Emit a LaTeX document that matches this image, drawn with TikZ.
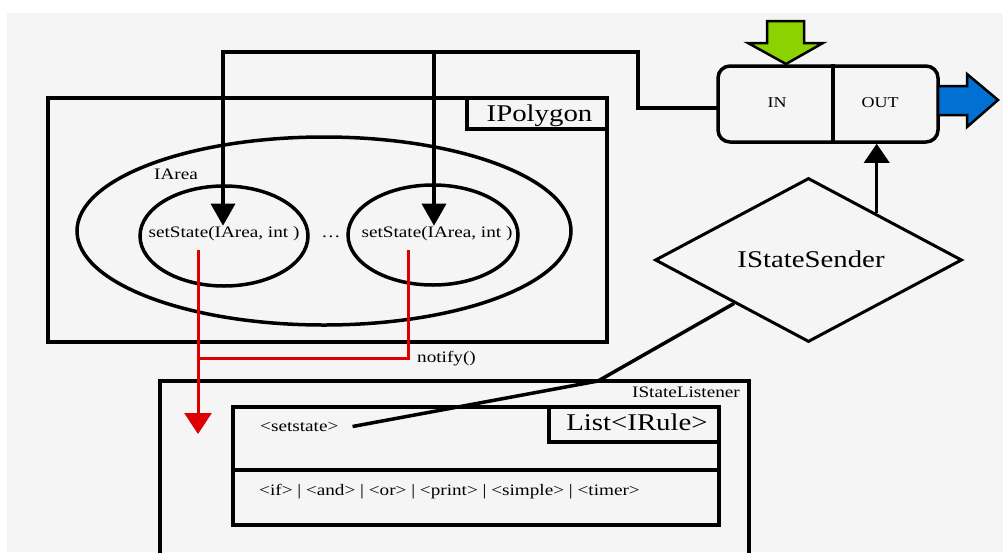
\documentclass[tikz,border=0pt]{standalone}
\usepackage{fontspec}
\setmainfont{Liberation Serif}[FakeStretch=1.2]
\usetikzlibrary{arrows.meta,shapes.geometric,calc}
\definecolor{bg}{HTML}{F5F5F5}
\definecolor{arrred}{HTML}{DD0000}
\definecolor{arrgreen}{HTML}{8CD200}
\definecolor{arrblue}{HTML}{0070D2}
\newcommand\fsmalltxt{\fontsize{16pt}{19pt}\selectfont}
\newcommand\fbigtxt{\fontsize{24pt}{28pt}\selectfont}
\newcommand\fiotxt{\fontsize{15pt}{18pt}\selectfont}
\begin{document}
\begin{tikzpicture}[x=1pt,y=-1pt,
  wire/.style={line width=3.5pt},
  boxstyle/.style={draw, line width=3.5pt, inner sep=0pt, rectangle},
  ellstyle/.style={draw, ellipse, line width=3.5pt, inner sep=0pt},
  txt/.style={inner sep=0pt, font=\fsmalltxt},
  bigtxt/.style={inner sep=0pt, font=\fbigtxt},
  iotxt/.style={inner sep=0pt, font=\fiotxt},
  blackhead/.style={-{Triangle[length=22pt,width=24pt]}},
  redwire/.style={draw=arrred, line width=3pt},
  blockarrow/.style={draw=black, line width=2.5pt, line join=miter},
]
\useasboundingbox (0,0) rectangle (1003,552);
\clip (0,0) rectangle (1003,552);
\fill[white] (0,0) rectangle (1003,552);
\fill[bg] (7,13) rectangle (1003,552);

% IPolygon
\node[boxstyle, minimum width=559pt, minimum height=244pt] (polygon) at (327.5,220) {};
\node[boxstyle, minimum width=140pt, minimum height=31pt] (polytitle) at (537,113.5) {};
\node[bigtxt, anchor=base] (polylbl) at (539.5,121) {IPolygon};

% IArea ellipses
\node[ellstyle, minimum width=494pt, minimum height=188pt] (iarea) at (324,231) {};
\node[txt, anchor=base west] (iarealbl) at (154,179) {IArea};
\node[ellstyle, minimum width=168pt, minimum height=100pt] (area1) at (224,236) {};
\node[ellstyle, minimum width=170pt, minimum height=100pt] (area2) at (433,235) {};
\node[txt, anchor=base] (set1) at (224,237) {setState(IArea, int )};
\node[txt, anchor=base] (set2) at (437,237) {setState(IArea, int )};
\node[txt, anchor=base] (dots) at (331,237) {…};

% IN / OUT
\node[draw, line width=3.5pt, rounded corners=12pt, minimum width=220pt, minimum height=76pt, inner sep=0pt] (io) at (828,104) {};
\coordinate (divx) at (833,0);
\draw[wire] (io.north -| divx) -- (io.south -| divx);
\node[iotxt, anchor=base] (inlbl) at (777,107) {IN};
\node[iotxt, anchor=base] (outlbl) at (880,107) {OUT};

% wire from IN to setState
\coordinate (inport) at (718,108);
\coordinate (bend1) at (638,108);
\coordinate (bend2) at (638,52);
\coordinate (wl) at (223,52);
\coordinate (wr) at (434,52);
\draw[wire, blackhead] (inport) -- (bend1) -- (bend2) -- (wl) -- (wl |- set1.north);
\draw[wire, blackhead] (wr) -- (wr |- set2.north);

% green and blue block arrows
\filldraw[blockarrow, fill=arrgreen] (767,21) -- (804,21) -- (804,43) -- (823,43) -- (786,64) -- (748,43) -- (767,43) -- cycle;
\filldraw[blockarrow, fill=arrblue] (938,86) -- (967,86) -- (967,74) -- (998,100) -- (967,127) -- (967,115) -- (938,115) -- cycle;

% IStateSender
\node[draw, diamond, line width=3pt, inner sep=0pt, minimum width=307pt, minimum height=164pt] (sender) at (808.5,260) {};
\node[bigtxt, anchor=base] (senderlbl) at (811,267) {IStateSender};
\coordinate (sout) at ($(sender.north)!0.44!(sender.east)$);
\draw[wire, -{Triangle[length=19pt,width=25pt]}] (sout) -- (sout |- io.south);

% IStateListener
\node[boxstyle, minimum width=589pt, minimum height=199pt] (listener) at (454.5,480.5) {};
\node[txt, anchor=base east] (listlbl) at (740,397) {IStateListener};
\node[boxstyle, minimum width=486pt, minimum height=118pt] (rules) at (476,466) {};
\node[boxstyle, minimum width=170pt, minimum height=35pt] (rulestitle) at (634,424.5) {};
\node[bigtxt, anchor=base] (ruleslbl) at (637,430) {List<IRule>};
\coordinate (divy) at (0,470);
\draw[wire] (rules.west |- divy) -- (rules.east |- divy);
\node[txt, anchor=base west] (setstate) at (260,431) {<setstate>};
\node[txt, anchor=base west] (grammar) at (259,495) {<if> | <and> | <or> | <print> | <simple> | <timer>};

% sender to setstate
\coordinate (sin) at ($(sender.west)!0.52!(sender.south)$);
\coordinate (kink) at (598,381);
\draw[line width=3.5pt] (sin) -- (kink) -- ([xshift=14pt]setstate.east);

% red notify lines
\coordinate (r2top) at (408,250);
\coordinate (nbend) at (408,358);
\coordinate (nleft) at (198,358);
\coordinate (r1top) at (198,250);
\coordinate (r1tip) at (198,434);
\draw[redwire] (r2top) -- (nbend) -- (nleft);
\draw[redwire, -{Triangle[length=21pt,width=27pt]}] (r1top) -- (r1tip);
\node[txt, anchor=base west] (notify) at (417,362) {notify()};
\end{tikzpicture}
\end{document}
